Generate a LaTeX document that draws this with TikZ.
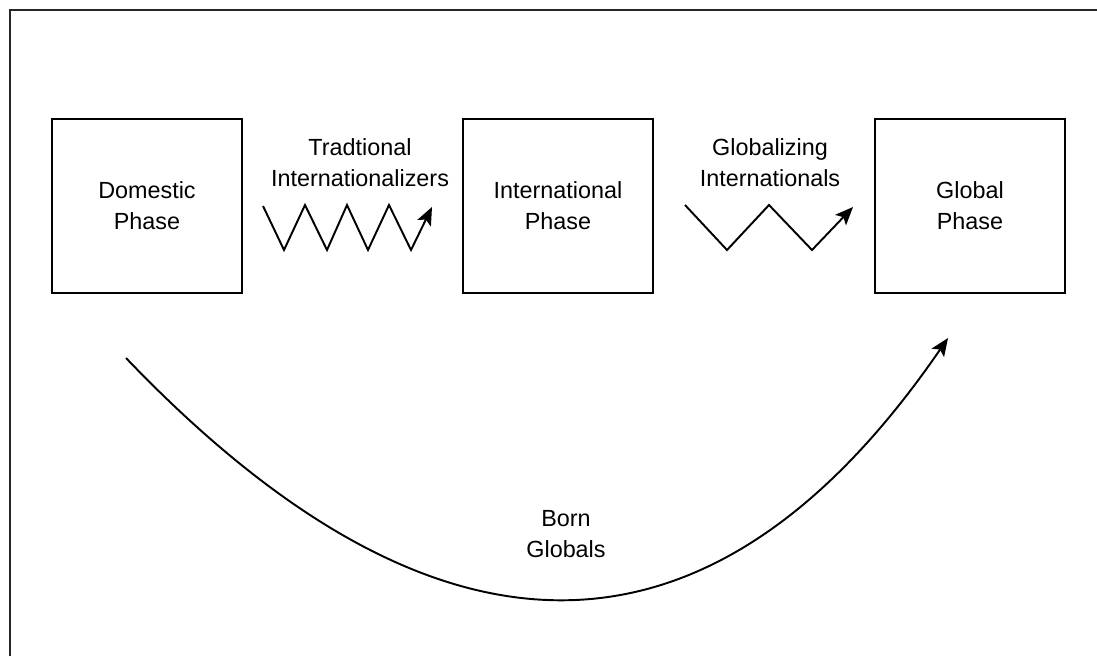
\documentclass[tikz,border=0pt]{standalone}
\usepackage{fontspec}
\setmainfont{Liberation Sans}
\usetikzlibrary{arrows.meta,positioning}

\begin{document}
\begin{tikzpicture}[
  x=0.02cm,y=-0.02cm,
  phasebox/.style={draw,line width=1.2pt,minimum width=3.8cm,minimum height=3.48cm,
    align=center,font=\fontsize{13.3}{17.6}\selectfont,inner sep=0pt},
  pathlabel/.style={align=center,font=\fontsize{13.3}{17.6}\selectfont,inner sep=0pt},
  patharr/.style={-{Stealth[length=0.36cm,width=0.3cm,inset=0.08cm]},line width=1.1pt}
]
  \useasboundingbox (0,0) rectangle (1097,656);
  % frame
  \draw[line width=1.3pt,black!85] (10,656) -- (10,10) -- (1097,10);

  % Phases
  \node[phasebox] (dom) at (147,206) {Domestic\\Phase};
  \node[phasebox] (intl) at (558,206) {International\\Phase};
  \node[phasebox] (glob) at (970,206) {Global\\Phase};

  % Traditional internationalizers
  \node[pathlabel] (trad) at (360,163) {Tradtional\\Internationalizers};
  \draw[patharr] (263,206) -- (284,250) -- (305,205) -- (327,250) -- (347,205)
    -- (368,250) -- (389,205) -- (411,250) -- (432,207);

  % Globalizing internationals
  \node[pathlabel] (globint) at (770,163) {Globalizing\\Internationals};
  \draw[patharr] (685,205) -- (727,250) -- (769,205) -- (812,250) -- (853,207);

  % Born globals
  \coordinate (bgstart) at (126,358);
  \coordinate (bgend) at (948,338);
  \draw[patharr] (bgstart) .. controls (440,686) and (714,679) .. (bgend);
  \node[pathlabel] (born) at (566,534) {Born\\Globals};
\end{tikzpicture}
\end{document}
